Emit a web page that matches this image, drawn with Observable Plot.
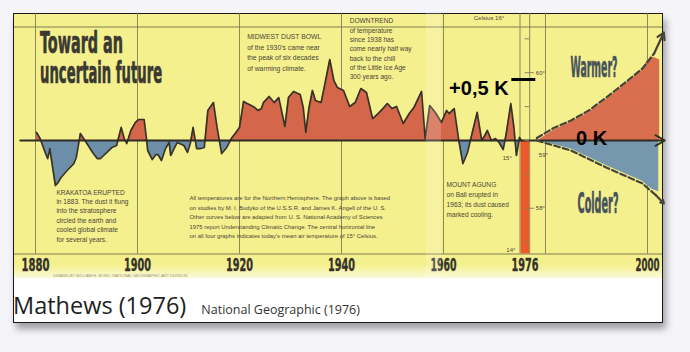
<!DOCTYPE html>
<html><head><meta charset="utf-8">
<script src="https://cdn.jsdelivr.net/npm/d3@7"></script>
<script src="https://cdn.jsdelivr.net/npm/@observablehq/plot@0.6"></script>
<style>
html,body{margin:0;padding:0;background:#f4f4f9;}
body{width:690px;height:352px;position:relative;overflow:hidden;font-family:"Open Sans",sans-serif;}
#card{position:absolute;left:13px;top:13px;width:648px;height:308px;background:#fff;border:1px solid #1a1a1a;box-shadow:3px 6px 7px rgba(0,0,0,0.35);}
#chart svg{display:block;}
#cap{position:absolute;left:-1px;top:280px;white-space:nowrap;line-height:1;}
#cap .main{font-size:23.5px;color:#1e1e1e;}
#cap .sub{font-size:12.5px;color:#333;margin-left:15px;}
</style></head><body>
<div id="card"><div id="chart"></div><div id="cap"><span class="main">Mathews (1976)</span><span class="sub">National Geographic (1976)</span></div></div>
<script>
// ---- Data (Northern Hemisphere temperature anomaly, K) ----
const years = [1880.2,1880.9,1881.9,1882.4,1882.8,1883.9,1884.3,1885.0,1886.2,1887.5,1888.0,1888.8,1889.7,1891.2,1892.1,1892.7,1894.0,1895.0,1895.9,1896.8,1897.4,1897.9,1898.7,1899.6,
1900.2,1901.3,1901.8,1902.0,1902.9,1903.6,1904.0,1904.7,1905.5,1906.2,1906.5,1907.3,1907.8,1909.1,1909.8,1910.4,1910.9,1911.6,1912.4,1913.1,1913.8,1914.9,1915.6,1916.5,1917.5,1918.4,1919.3,
1920.0,1920.8,1921.5,1922.3,1923.0,1923.6,1924.3,1924.7,1925.8,1926.8,1927.7,1928.9,1929.6,1930.6,1931.9,1932.5,1933.0,1933.6,1934.3,1934.9,1936.0,1936.8,1937.7,1938.5,1939.2,
1940.4,1941.6,1942.7,1943.8,1944.9,1946.1,1947.2,1948.3,1949.0,1949.9,1950.8,1952.1,1953.3,1954.2,1955.7,1956.4,1957.3,1958.4,1959.6,
1960.6,1961.1,1962.1,1963.0,1963.8,1964.7,1965.6,1966.6,1967.5,1968.1,1968.6,1969.4,1970.2,1970.9,1971.7,1972.3,1973.2,1973.8,1974.3,1974.9,1975.3];
const anomaly = [0.066,0.016,-0.098,-0.148,-0.066,-0.369,-0.352,-0.303,-0.246,-0.189,-0.139,0.057,0.0,-0.098,-0.148,-0.148,-0.098,-0.057,-0.041,0.107,0.016,-0.025,0.082,0.148,
0.172,0.172,0.0,-0.082,-0.156,-0.115,-0.115,-0.164,-0.066,-0.016,-0.123,-0.057,-0.016,-0.041,-0.098,-0.016,0.107,-0.066,-0.066,-0.057,0.246,0.311,0.107,-0.107,-0.057,0.016,0.066,
0.107,0.320,0.303,0.287,0.270,0.246,0.262,0.311,0.361,0.311,0.352,0.115,0.352,0.402,0.377,0.270,0.066,0.262,0.410,0.328,0.311,0.475,0.664,0.492,0.434,
0.410,0.279,0.311,0.426,0.393,0.180,0.221,0.270,0.303,0.262,0.279,0.139,0.221,0.270,0.402,0.016,0.287,0.230,0.148,
0.246,0.221,0.262,0.0,-0.189,-0.098,0.057,0.230,0.0,0.041,0.082,0.0,0.016,-0.016,-0.074,0.057,0.303,0.107,-0.123,0.025,0.0];

// Projections ("Warmer?" / "Colder?")
const warmFillYears  = [1978.6,1981.4,1985.0,1988.5,1991.9,1995.4,1999.0,2000.0,2001.3,2002.4];
const warmFillValues = [0.0,0.08,0.15,0.23,0.335,0.45,0.575,0.66,0.68,0.66];
const coolFillYears  = [1978.6,1985.0,1991.9,1999.0,2000.9,2002.2];
const coolFillValues = [0.0,-0.07,-0.205,-0.335,-0.40,-0.42];
const warmerYears  = [1978.3,1981.4,1985.0,1988.5,1991.9,1995.4,1999.0,2001.3,2003.2];
const warmerValues = [0.02,0.098,0.164,0.246,0.352,0.467,0.590,0.713,0.885];
const colderYears  = [1978.3,1985.0,1991.9,1999.0,2001.7,2003.2];
const colderValues = [0.0,-0.082,-0.221,-0.352,-0.451,-0.516];

// Axis ticks
const tickYears  = [1880,1900,1920,1940,1960,1976,2000];
const tickLabels = ["1880","1900","1920","1940","1960","1976","2000"];
const gridYears  = [1880,1900,1920,1940,1960,1980,2000];
// Thermometer scale (Fahrenheit ticks, Celsius labels)
const fahrenheitTicks = [57.5,58,58.5,59,59.5,60,60.5];
const fahrenheitLabels = [58,59,60];
const celsiusLabels = [14,15,16];

// ---- build ----
const obs = years.map((x,i)=>({x, v: anomaly[i]}));
const zip = (xs, vs) => xs.map((x,i)=>({x, v: vs[i]}));
const warmFill = zip(warmFillYears, warmFillValues);
const coolFill = zip(coolFillYears, coolFillValues);
const warmer = zip(warmerYears, warmerValues);
const colder = zip(colderYears, colderValues);
const fToK = f => (f - 59) * 5 / 9;
const cToK = c => c - 15;

const W = 648, H = 264;
const YEL = "#f5f08e", RED = "#d4674a", BLUE = "#6c8ea8", RED2 = "#d96e4f", BLUE2 = "#7698ae";
const GRID = "#807c52", INK = "#363229", TXT = "#4a4536";
const COND = '"Liberation Sans Narrow","DejaVu Sans Condensed","Roboto Condensed","Liberation Sans",sans-serif';
const SANS = '"Liberation Sans",Arial,sans-serif';

const note = (t, x, y, o={}) => Plot.text([t], {x, y, text: d => d, fontFamily: SANS, fontSize: 6.8, fill: TXT, textAnchor: "start", lineAnchor: "top", ...o});
const tail = a => a[a.length-1], prev = a => a[a.length-2];

const svg = Plot.plot({
  width: W, height: H, margin: 0,
  x: {type: "linear", domain: [1880, 2000], range: [21, 633], axis: null},
  y: {type: "linear", domain: [-1, 1], range: [248, 4], axis: null},
  style: {background: `linear-gradient(${YEL}, ${YEL} 95%, #fbf9d8)`, overflow: "visible"},
  marks: [
    Plot.ruleX(gridYears, {y1: -0.93, y2: 1.04, stroke: GRID, strokeWidth: 0.9}),
    Plot.ruleX([1975.0, 1976.9], {y1: -0.93, y2: 1.04, stroke: GRID, strokeWidth: 0.9}),
    Plot.ruleY([-0.93, 0.93], {stroke: GRID, strokeWidth: 1.1}),
    Plot.areaY(obs, {x: "x", y1: 0, y2: "v", fill: RED, ariaDescription: "warm"}),
    Plot.areaY(obs, {x: "x", y1: 0, y2: "v", fill: BLUE, ariaDescription: "cool"}),
    Plot.areaY(warmFill, {x: "x", y1: 0, y2: "v", fill: RED2}),
    Plot.areaY(coolFill, {x: "x", y1: 0, y2: "v", fill: BLUE2}),
    Plot.rect([0], {x1: 1975.2, x2: 1976.9, y1: -0.93, y2: 0, fill: "#ec5a2c"}),
    Plot.line(obs, {x: "x", y: "v", stroke: INK, strokeWidth: 1.7, strokeLinejoin: "round"}),
    Plot.arrow([0], {x1: 1877, x2: 2003.4, y1: 0, y2: 0, stroke: "#2f2c25", strokeWidth: 1.8, headLength: 9}),
    Plot.line(warmer.slice(0,-1), {x: "x", y: "v", stroke: "#45433a", strokeWidth: 2.2, strokeDasharray: "6,3"}),
    Plot.line(colder.slice(0,-1), {x: "x", y: "v", stroke: "#45433a", strokeWidth: 2.2, strokeDasharray: "6,3"}),
    Plot.arrow([0], {x1: prev(warmer).x, y1: prev(warmer).v, x2: tail(warmer).x, y2: tail(warmer).v, stroke: "#45433a", strokeWidth: 2.2, headLength: 10}),
    Plot.arrow([0], {x1: prev(colder).x, y1: prev(colder).v, x2: tail(colder).x, y2: tail(colder).v, stroke: "#45433a", strokeWidth: 2.2, headLength: 10}),
    // thermometer scale
    Plot.ruleY(fahrenheitTicks.map(fToK), {x1: 1976.0, x2: 1976.9, stroke: GRID, strokeWidth: 0.9}),
    Plot.ruleY([58, 60].map(fToK), {x1: 1976.9, x2: 1977.8, stroke: GRID, strokeWidth: 0.9}),
    Plot.text(fahrenheitLabels, {x: f => f === 59 ? 1978.7 : 1978.1, y: f => f === 59 ? -0.12 : fToK(f), text: f => f + "°", fontFamily: SANS, fontSize: 6, fill: TXT, textAnchor: "start"}),
    Plot.text(celsiusLabels, {x: c => c === 16 ? 1971.9 : c === 15 ? 1973.4 : 1974.1, y: c => c === 15 ? -0.14 : c === 14 ? -0.9 : cToK(c), text: c => (c === 16 ? "Celsius " : "") + c + "°", fontFamily: SANS, fontSize: 6, fill: TXT, textAnchor: "end"}),
    Plot.ruleY([0.5], {x1: 1973.4, x2: 1978.1, stroke: "#000", strokeWidth: 3}),
    // axis labels
    Plot.text(tickYears, {x: d => d, y: -1.02, text: (d,i) => tickLabels[i], fontFamily: COND, fontWeight: "bold", fontSize: 18, fill: "#34312a", stroke: "#34312a", strokeWidth: 0.4, ariaDescription: "yearlabel"}),
    // title
    Plot.text(["Toward an", "uncertain future"], {x: 1880.9, y: (d,i) => i === 0 ? 0.721 : 0.475, text: d => d, fontFamily: COND, fontWeight: "bold", fontSize: 31, fill: "#3a3931", stroke: "#3a3931", strokeWidth: 0.7, textAnchor: "start", lineAnchor: "bottom", ariaDescription: "title"}),
    Plot.text(["Warmer?", "Colder?"], {x: (d,i) => i === 0 ? 1989.5 : 1990.3, y: (d,i) => i === 0 ? 0.598 : -0.516, text: d => d, fontFamily: COND, fontWeight: "bold", fontSize: 29, fill: "#48525b", stroke: "#48525b", strokeWidth: 0.6, ariaDescription: "question"}),
    Plot.text(["+0,5 K"], {x: 1961.1, y: 0.426, text: d => d, fontFamily: SANS, fontWeight: "bold", fontSize: 20, fill: "#000", textAnchor: "start"}),
    Plot.text(["0 K"], {x: 1986.0, y: 0.016, text: d => d, fontFamily: SANS, fontWeight: "bold", fontSize: 20, fill: "#000", textAnchor: "start"}),
    // annotations
    note("MIDWEST DUST BOWL\nof the 1930's came near\nthe peak of six decades\nof warming climate.", 1921.5, 0.893, {lineHeight: 1.55}),
    note("DOWNTREND\nof temperature\nsince 1938 has\ncome nearly half way\nback to the chill\nof the Little Ice Age\n300 years ago.", 1941.6, 1.016, {lineHeight: 1.42, fontSize: 6.6}),
    note("KRAKATOA ERUPTED\nin 1883. The dust it flung\ninto the stratosphere\ncircled the earth and\ncooled global climate\nfor several years.", 1884.1, -0.39, {lineHeight: 1.42, fontSize: 6.6}),
    note("All temperatures are for the Northern Hemisphere. The graph above is based\non studies by M. I. Budyko of the U.S.S.R. and James K. Angell of the U. S.\nOther curves below are adapted from U. S. National Academy of Sciences\n1975 report Understanding Climatic Change. The central horizontal line\non all four graphs indicates today's mean air temperature of 15° Celsius.", 1910.2, -0.434, {lineHeight: 1.62, fontSize: 5.9}),
    note("MOUNT AGUNG\non Bali erupted in\n1963; its dust caused\nmarked cooling.", 1960.6, -0.32, {lineHeight: 1.55, fontSize: 6.6}),
    note("DRAWN BY WILLIAM H. BOND, NATIONAL GEOGRAPHIC ART DIVISION", 1883.5, -1.105, {fontSize: 4, fill: "#9a9680", lineAnchor: "middle"}),
    // page fold
    Plot.rect([0], {x1: 1956.6, x2: 1959.6, y1: -1.2, y2: 1.05, fill: "#ffffff", fillOpacity: 0.18})
  ]
});

// clip observed fills to their side of the zero line
const y0 = svg.scale("y").apply(0);
const root = d3.select(svg);
const defs = root.insert("defs", ":first-child");
defs.append("clipPath").attr("id", "clipWarm").append("rect").attr("x", 0).attr("y", -20).attr("width", W).attr("height", y0 + 20);
defs.append("clipPath").attr("id", "clipCool").append("rect").attr("x", 0).attr("y", y0).attr("width", W).attr("height", H);
root.select('g[aria-description="warm"]').attr("clip-path", "url(#clipWarm)");
root.select('g[aria-description="cool"]').attr("clip-path", "url(#clipCool)");
// condensed display lettering
const fit = (label, widths) => root.selectAll(`g[aria-description="${label}"] text`).each(function(d, i) {
  this.setAttribute("textLength", widths[i]);
  this.setAttribute("lengthAdjust", "spacingAndGlyphs");
});
fit("title", [83, 122]);
fit("question", [47, 41]);
fit("yearlabel", [28, 27, 27, 27, 26, 27, 24]);

document.getElementById("chart").appendChild(svg);
</script></body></html>
